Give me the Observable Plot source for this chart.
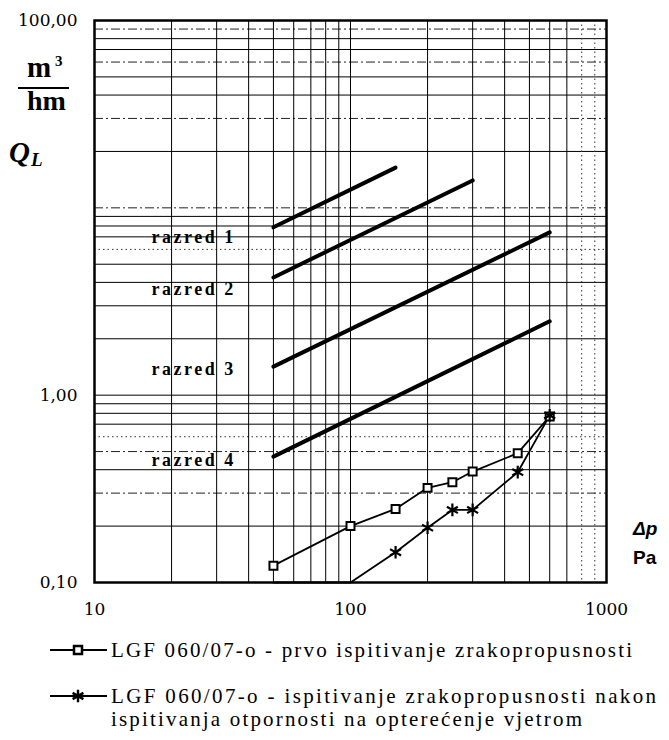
<!DOCTYPE html>
<html><head><meta charset="utf-8">
<script src="https://cdn.jsdelivr.net/npm/d3@7"></script>
<script src="https://cdn.jsdelivr.net/npm/@observablehq/plot@0.6"></script>
<style>body{margin:0;background:#fff} #chart svg{display:block;overflow:visible}</style>
</head><body><div id="chart"></div><script>
// ---- data ----
const pressure1 = [50, 100, 150, 200, 250, 300, 450, 600];
const flow1 = [0.123, 0.2, 0.247, 0.32, 0.343, 0.391, 0.49, 0.77];
const pressure2 = [50, 100, 150, 200, 250, 300, 450, 600];
const flow2 = [0.1, 0.1, 0.145, 0.196, 0.244, 0.244, 0.388, 0.78];

const classNames = ["razred 1", "razred 2", "razred 3", "razred 4"];
const classStartP = [50, 50, 50, 50];
const classEndP = [150, 300, 600, 600];
const classStartQ = [7.87, 4.25, 1.42, 0.47];
const classEndQ = [16.4, 14.0, 7.4, 2.48];
const classLabelP = [16.7, 16.7, 16.7, 16.7];
const classLabelQ = [7.0, 3.66, 1.37, 0.448];

const xTicks = [10, 100, 1000];
const yTicks = [0.1, 1, 100];

const hSolid = [80, 70, 50, 40, 20, 9, 8, 7, 5, 4, 3, 2, 1, 0.9, 0.8, 0.7, 0.4, 0.2];
const hDashDot = [90, 60, 30, 10, 0.5, 0.3];
const hDotted = [6, 0.6];
const vSolid = [20, 30, 40, 50, 60, 70, 80, 90, 100, 200, 300, 400, 500, 600, 700];
const vDotted = [800, 900];

const legendLabels = [
  ["LGF 060/07-o  - prvo ispitivanje zrakopropusnosti"],
  ["LGF 060/07-o  - ispitivanje zrakopropusnosti nakon", "ispitivanja otpornosti na opterećenje vjetrom"]
];

// ---- tables ----
const s1 = pressure1.map((p, i) => ({p, q: flow1[i]}));
const s2 = pressure2.map((p, i) => ({p, q: flow2[i]}));
const cls = classNames.map((n, i) => ({n, p1: classStartP[i], q1: classStartQ[i], p2: classEndP[i], q2: classEndQ[i], lp: classLabelP[i], lq: classLabelQ[i]}));

const serif = "Liberation Serif";
const sans = "Liberation Sans";

const chart = Plot.plot({
  width: 669, height: 625,
  marginLeft: 94, marginRight: 63, marginTop: 20, marginBottom: 43,
  style: {fontFamily: "DejaVu Serif", fontSize: "17px", background: "#fff", color: "#000", overflow: "visible"},
  x: {type: "log", domain: [10, 1000]},
  y: {type: "log", domain: [0.1, 100]},
  marks: [
    Plot.ruleY(hSolid, {stroke: "#000", strokeWidth: 1}),
    Plot.ruleY(hDashDot, {stroke: "#222", strokeWidth: 1, strokeDasharray: "9,3,2,3"}),
    Plot.ruleY(hDotted, {stroke: "#333", strokeWidth: 1, strokeDasharray: "1.5,3"}),
    Plot.ruleX(vSolid, {stroke: "#000", strokeWidth: 1}),
    Plot.ruleX(vDotted, {stroke: "#333", strokeWidth: 1, strokeDasharray: "1.5,3"}),
    Plot.frame({stroke: "#000", strokeWidth: 2.5}),
    Plot.link(cls, {x1: "p1", y1: "q1", x2: "p2", y2: "q2", stroke: "#000", strokeWidth: 4, strokeLinecap: "round"}),
    Plot.text(cls, {x: "lp", y: "lq", text: "n", textAnchor: "start", fontWeight: "bold", fontFamily: serif, fontSize: 18}),
    Plot.line(s1, {x: "p", y: "q", stroke: "#000", strokeWidth: 1.8}),
    Plot.line(s2, {x: "p", y: "q", stroke: "#000", strokeWidth: 1.8}),
    Plot.dot(s1, {x: "p", y: "q", symbol: "square", r: 4.5, fill: "#fff", stroke: "#000", strokeWidth: 2}),
    Plot.dot(s2.filter(d => d.q > 0.1), {x: "p", y: "q", symbol: "asterisk", r: 6, stroke: "#000", strokeWidth: 2.2}),
    Plot.axisX({ticks: xTicks, tickFormat: d => String(d), tickSize: 0, tickPadding: 20, fontSize: 17, fontFamily: "DejaVu Serif"}),
    Plot.axisY({ticks: yTicks, tickFormat: d => d.toFixed(2).replace(".", ","), tickSize: 0, tickPadding: 17, fontSize: 17, fontFamily: "DejaVu Serif"})
  ]
});
document.getElementById("chart").appendChild(chart);

const svg = d3.select(chart);
svg.selectAll("text").filter(function() { return /^razred/.test(this.textContent); }).attr("letter-spacing", "2.5px");

// axis titles
const t = svg.append("g").attr("fill", "#000").attr("text-anchor", "start");
t.append("text").attr("x", 27).attr("y", 77).attr("font-family", serif).attr("font-weight", "bold").attr("font-size", 29).text("m");
t.append("text").attr("x", 55).attr("y", 66).attr("font-family", serif).attr("font-weight", "bold").attr("font-size", 15).text("3");
t.append("line").attr("x1", 18).attr("x2", 69).attr("y1", 88).attr("y2", 88).attr("stroke", "#000").attr("stroke-width", 2);
t.append("text").attr("x", 27).attr("y", 110).attr("font-family", serif).attr("font-weight", "bold").attr("font-size", 28).text("hm");
t.append("text").attr("x", 9).attr("y", 162).attr("font-family", serif).attr("font-weight", "bold").attr("font-style", "italic").attr("font-size", 29).text("Q");
t.append("text").attr("x", 31).attr("y", 166).attr("font-family", serif).attr("font-weight", "bold").attr("font-style", "italic").attr("font-size", 19).text("L");
t.append("text").attr("x", 633).attr("y", 535).attr("font-family", sans).attr("font-weight", "bold").attr("font-style", "italic").attr("font-size", 19).text("Δp");
t.append("text").attr("x", 633).attr("y", 564).attr("font-family", sans).attr("font-weight", "bold").attr("font-size", 19).text("Pa");

// legend below
const lg = d3.create("svg").attr("width", 669).attr("height", 115).style("display", "block");
const rows = [{y: 25, sym: "square", lines: legendLabels[0], widths: [521]},
              {y: 71, sym: "asterisk", lines: legendLabels[1], widths: [545, 471]}];
rows.forEach(r => {
  lg.append("line").attr("x1", 50).attr("x2", 107).attr("y1", r.y).attr("y2", r.y).attr("stroke", "#000").attr("stroke-width", 2);
  const sym = d3.symbol(r.sym === "square" ? d3.symbolSquare : d3.symbolAsterisk, r.sym === "square" ? 64 : 110)();
  lg.append("path").attr("d", sym).attr("transform", `translate(78,${r.y})`)
    .attr("fill", r.sym === "square" ? "#fff" : "none").attr("stroke", "#000").attr("stroke-width", r.sym === "square" ? 2.5 : 2.4);
  r.lines.forEach((txt, k) => {
    lg.append("text").attr("x", 111).attr("y", r.y + 7 + k * 23).attr("font-family", serif).attr("font-size", 21)
      .attr("textLength", r.widths[k]).attr("lengthAdjust", "spacing").text(txt);
  });
});
document.getElementById("chart").appendChild(lg.node());
</script></body></html>
